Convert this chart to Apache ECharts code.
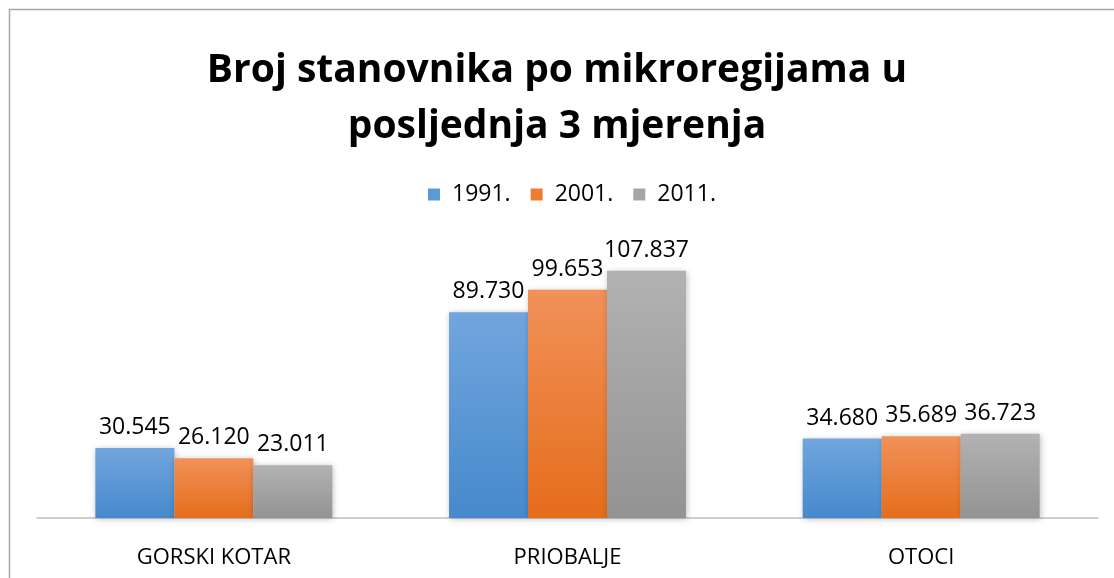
<!DOCTYPE html>
<html>
<head>
<meta charset="utf-8">
<script src="https://cdn.jsdelivr.net/npm/echarts@6/dist/echarts.min.js"></script>
<style>
  html, body { margin: 0; padding: 0; background: #fff; }
  #myEchartNode { width: 1114px; height: 578px; }
</style>
</head>
<body>
<div id="myEchartNode"></div>
<script>
var categories = ['GORSKI KOTAR', 'PRIOBALJE', 'OTOCI'];
var years = ['1991.', '2001.', '2011.'];
var data1991 = [30545, 89730, 34680];
var data2001 = [26120, 99653, 35689];
var data2011 = [23011, 107837, 36723];

function fmt(v) {
    // tocka kao separator tisucica
    return String(v).replace(/\B(?=(\d{3})+(?!\d))/g, '.');
}

function grad(top, bottom) {
    return new echarts.graphic.LinearGradient(0, 0, 0, 1, [
        { offset: 0, color: top },
        { offset: 1, color: bottom }
    ]);
}

var colors = [
    grad('#71a6dd', '#4689cc'),
    grad('#f19159', '#e56d1c'),
    grad('#b2b2b2', '#939393')
];
var legendColors = ['#5b9bd5', '#ed7d31', '#a5a5a5'];

function makeSeries(name, data, idx) {
    return {
        name: name,
        type: 'bar',
        barGap: '0%',
        barCategoryGap: '33%',
        itemStyle: {
            color: colors[idx],
            shadowColor: 'rgba(0,0,0,0.25)',
            shadowBlur: 6,
            shadowOffsetX: 1,
            shadowOffsetY: 1
        },
        label: {
            show: true,
            position: 'top',
            distance: 9,
            color: '#000',
            fontSize: 23,
            fontFamily: 'Open Sans',
            formatter: function (p) { return fmt(p.value); }
        },
        data: data
    };
}

var myEchartObj = echarts.init(document.getElementById('myEchartNode'));
var option = {
    backgroundColor: '#fff',
    animation: false,
    color: legendColors,
    title: {
        text: 'Broj stanovnika po mikroregijama u\nposljednja 3 mjerenja',
        left: 'center',
        top: 38,
        textStyle: {
            fontFamily: 'Open Sans',
            fontWeight: 'bold',
            fontSize: 39,
            color: '#000',
            lineHeight: 56
        }
    },
    legend: {
        data: years.map(function (y, i) {
            return { name: y, itemStyle: { color: legendColors[i] } };
        }),
        top: 178,
        left: 423,
        itemWidth: 12,
        itemHeight: 12,
        itemGap: 20,
        icon: 'rect',
        textStyle: {
            fontFamily: 'Open Sans',
            fontSize: 23,
            color: '#000',
            padding: [0, 0, 0, 7]
        }
    },
    grid: {
        top: 243,
        left: 37,
        right: 16,
        bottom: 60,
        containLabel: false
    },
    xAxis: {
        type: 'category',
        data: categories,
        axisTick: { show: false },
        axisLine: { lineStyle: { color: '#bfbfbf', width: 1.5 } },
        axisLabel: {
            color: '#000',
            fontSize: 22,
            fontFamily: 'Open Sans',
            margin: 29
        }
    },
    yAxis: {
        type: 'value',
        min: 0,
        max: 120000,
        show: false,
        splitLine: { show: false }
    },
    graphic: [{
        type: 'rect',
        shape: { x: 9.5, y: 9.5, width: 1300, height: 800 },
        style: { fill: 'none', stroke: '#a6a6a6', lineWidth: 1.5 },
        silent: true
    }],
    series: [
        makeSeries(years[0], data1991, 0),
        makeSeries(years[1], data2001, 1),
        makeSeries(years[2], data2011, 2)
    ]
};
myEchartObj.setOption(option);
</script>
</body>
</html>
